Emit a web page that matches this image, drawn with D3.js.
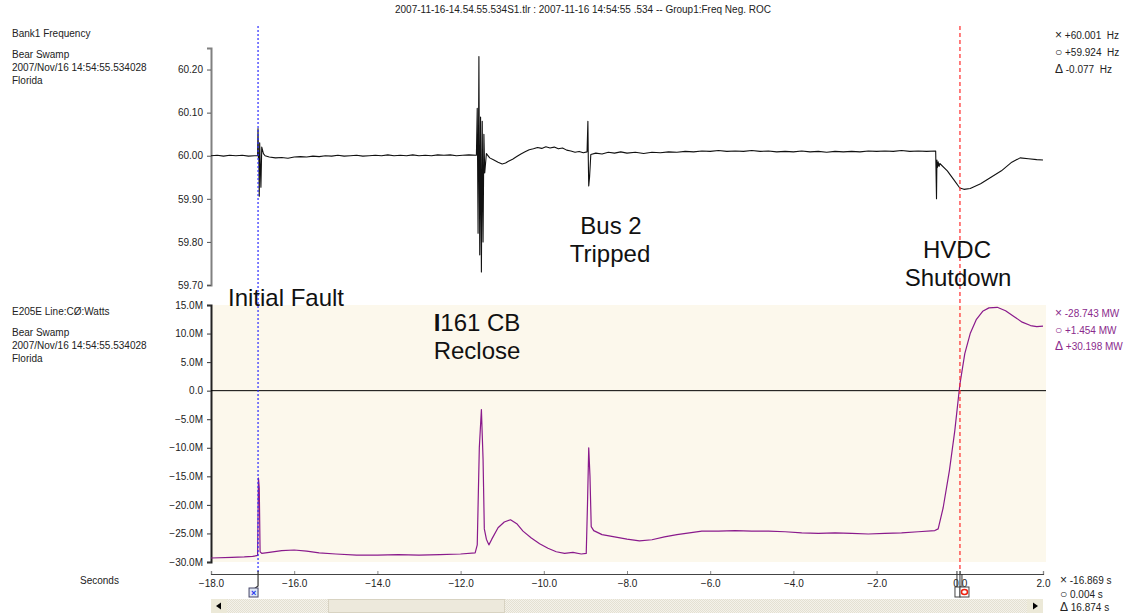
<!DOCTYPE html>
<html><head><meta charset="utf-8">
<script src="https://cdn.jsdelivr.net/npm/d3@7"></script>
<style>
body{margin:0;background:#fff}
svg{display:block}
text{font-family:"Liberation Sans",Arial,sans-serif}
</style>
</head><body>
<svg id="c" width="1129" height="615"></svg>
<script>
// Bank1 frequency (Hz) against time (s)
const freqTime = [-18.00,-17.85,-17.70,-17.55,-17.40,-17.25,-17.10,-16.95,-16.88,-16.87,-16.86,-16.85,-16.84,-16.83,-16.80,-16.78,-16.74,-16.70,
  -16.60,-16.45,-16.30,-16.15,-16.00,-15.85,-15.70,-15.55,-15.40,-15.25,-15.10,-14.95,-14.80,-14.65,-14.50,-14.35,-14.20,-14.05,-13.90,-13.75,-13.60,-13.45,-13.30,-13.15,-13.00,-12.85,-12.70,-12.55,-12.40,-12.25,-12.10,-11.95,-11.80,-11.62,
  -11.60,-11.58,-11.56,-11.54,-11.52,-11.50,-11.48,-11.46,-11.44,-11.42,
  -11.38,-11.30,-11.20,-11.10,-11.00,-10.92,-10.85,-10.75,-10.65,-10.55,-10.45,-10.35,-10.25,-10.15,-10.05,-9.95,-9.85,-9.75,-9.65,-9.55,-9.45,-9.35,-9.25,-9.15,-9.05,-8.96,
  -8.94,-8.93,-8.92,-8.90,
  -8.87,-8.75,-8.60,-8.45,-8.30,-8.15,-8.00,-7.80,-7.60,-7.40,-7.20,-7.00,-6.80,-6.60,-6.40,-6.20,-6.00,-5.80,-5.60,-5.40,-5.20,-5.00,-4.80,-4.60,-4.40,-4.20,-4.00,-3.80,-3.60,-3.40,-3.20,-3.00,-2.80,-2.60,-2.40,-2.20,-2.00,-1.80,-1.60,-1.40,-1.20,-1.00,-0.80,-0.58,
  -0.56,-0.55,-0.54,-0.52,-0.50,-0.48,-0.30,-0.15,0.00,0.10,0.25,0.50,0.75,1.00,1.25,1.45,1.65,1.85,2.00];
const freqHz = [60.000,60.001,59.999,60.001,60.000,60.001,59.999,60.000,60.000,60.063,59.995,60.000,59.906,60.030,59.927,60.020,60.005,60.000,
  59.997,59.995,59.996,59.994,59.997,59.998,59.997,59.999,59.998,60.000,59.999,60.001,59.999,60.000,60.001,59.999,60.000,60.001,60.000,60.002,60.000,60.001,60.000,60.002,60.000,60.001,60.000,60.002,60.001,60.002,60.000,60.001,60.002,60.001,
  60.110,59.820,60.230,59.770,60.090,59.730,60.080,59.800,60.050,59.960,
  60.005,59.995,59.990,59.985,59.981,59.983,59.987,59.992,59.998,60.004,60.009,60.014,60.016,60.019,60.017,60.021,60.018,60.020,60.016,60.018,60.013,60.011,60.008,60.010,60.007,60.009,
  60.080,59.990,59.930,59.950,
  60.003,60.006,60.004,60.008,60.006,60.009,60.006,60.008,60.005,60.008,60.007,60.009,60.008,60.010,60.009,60.011,60.010,60.012,60.010,60.011,60.010,60.012,60.010,60.011,60.009,60.010,60.009,60.011,60.009,60.010,60.008,60.010,60.009,60.010,60.009,60.011,60.010,60.011,60.010,60.012,60.010,60.011,60.010,60.011,
  59.900,59.990,59.972,59.986,59.975,59.982,59.965,59.945,59.925,59.922,59.924,59.935,59.950,59.965,59.985,59.995,59.993,59.991,59.990];

// E205E line power (MW) against time (s)
const powTime = [-18.00,-17.50,-17.20,-17.00,-16.90,-16.88,-16.86,-16.84,-16.82,-16.78,-16.60,-16.30,-16.00,-15.70,-15.40,-15.00,-14.50,-14.00,-13.50,-13.00,-12.50,-12.00,-11.65,
  -11.60,-11.55,-11.50,-11.46,-11.43,-11.38,-11.32,-11.25,-11.10,-10.95,-10.80,-10.65,-10.50,-10.30,-10.10,-9.90,-9.70,-9.50,-9.30,-9.10,-8.98,
  -8.95,-8.92,-8.89,-8.86,-8.80,-8.60,-8.30,-8.00,-7.70,-7.40,-7.10,-6.80,-6.50,-6.20,-5.80,-5.40,-5.00,-4.60,-4.20,-3.80,-3.40,-3.00,-2.60,-2.20,-1.80,-1.40,-1.00,-0.60,
  -0.52,-0.40,-0.25,-0.12,0.00,0.12,0.25,0.40,0.55,0.70,0.90,1.10,1.30,1.50,1.70,1.85,2.00];
const powMW = [-29.3,-29.2,-29.1,-29.0,-28.9,-28.8,-15.3,-17.0,-28.2,-28.5,-28.3,-28.0,-27.9,-28.1,-28.4,-28.6,-28.8,-28.8,-28.7,-28.8,-28.7,-28.6,-28.4,
  -27.0,-10.0,-3.3,-12.0,-24.2,-26.0,-27.0,-26.0,-24.0,-23.0,-22.6,-23.3,-24.6,-25.8,-26.8,-27.6,-28.2,-28.5,-28.3,-28.6,-28.5,
  -20.0,-10.0,-15.0,-23.8,-24.5,-25.2,-25.6,-26.0,-26.3,-26.1,-25.6,-25.2,-24.9,-24.6,-24.6,-24.5,-24.6,-24.6,-24.7,-24.9,-25.0,-24.9,-25.0,-25.1,-25.0,-24.9,-24.7,-24.5,
  -24.2,-20.5,-14.0,-7.0,1.0,6.5,10.0,12.5,13.9,14.5,14.6,14.0,13.0,12.0,11.4,11.2,11.3];

const timeTicks = [-18,-16,-14,-12,-10,-8,-6,-4,-2,0,2];
const freqTicks = [59.70,59.80,59.90,60.00,60.10,60.20];
const powTicks = [-30,-25,-20,-15,-10,-5,0,5,10,15];

// Cursor positions (s) and their readouts: [marker, text]
const cursorX = -16.869, cursorO = 0.004;
const freqReadout = [["\u00D7", " +60.001  Hz"], ["\u25CB", " +59.924  Hz"], ["\u0394", " -0.077  Hz"]];
const powReadout = [["\u00D7", " -28.743 MW"], ["\u25CB", " +1.454 MW"], ["\u0394", " +30.198 MW"]];
const timeReadout = [["\u00D7", " -16.869 s"], ["\u25CB", " 0.004 s"], ["\u0394", " 16.874 s"]];

const svg = d3.select("#c");
const FONT = "\"Liberation Sans\",Arial,sans-serif";

const x = d3.scaleLinear().domain([-18, 2]).range([211, 1043]);
const yF = d3.scaleLinear().domain([59.70, 60.25]).range([285, 48]);
const yP = d3.scaleLinear().domain([-30, 15]).range([562, 305]);

// title
svg.append("text").attr("x", 583).attr("y", 13).attr("text-anchor", "middle")
  .attr("font-size", 10).attr("fill", "#222")
  .text("2007-11-16-14.54.55.534S1.tlr : 2007-11-16 14:54:55 .534 -- Group1:Freq Neg. ROC");

// bottom panel background
svg.append("rect").attr("x", 212).attr("y", yP(15)).attr("width", 834).attr("height", yP(-30) - yP(15))
  .attr("fill", "#fcf8ec");

// channel labels
function infoBlock(y0, title) {
  const g = svg.append("g").attr("font-size", 10).attr("fill", "#222");
  g.append("text").attr("x", 12).attr("y", y0).text(title);
  g.append("text").attr("x", 12).attr("y", y0 + 21).text("Bear Swamp");
  g.append("text").attr("x", 12).attr("y", y0 + 34).text("2007/Nov/16 14:54:55.534028");
  g.append("text").attr("x", 12).attr("y", y0 + 47).text("Florida");
}
infoBlock(37, "Bank1 Frequency");
infoBlock(315, "E205E Line:C\u00D8:Watts");

// y axes
const axF = svg.append("g").attr("transform", "translate(211,0)")
  .call(d3.axisLeft(yF).tickValues(freqTicks).tickFormat(d3.format(".2f")).tickSizeOuter(0).tickSize(4).tickPadding(4));
axF.select(".domain").attr("stroke", "#808080").attr("stroke-width", 2);
axF.selectAll(".tick line").attr("stroke", "#555");
axF.selectAll("text").attr("font-size", 10).attr("font-family", FONT).attr("fill", "#222");

const fmtP = d => d === 0 ? "0.0" : d3.format(".1f")(d) + "M";
const axP = svg.append("g").attr("transform", "translate(211,0)")
  .call(d3.axisLeft(yP).tickValues(powTicks).tickFormat(fmtP).tickSizeOuter(0).tickSize(4).tickPadding(4));
axP.select(".domain").attr("stroke", "#222").attr("stroke-width", 2);
axP.selectAll(".tick line").attr("stroke", "#333");
axP.selectAll("text").attr("font-size", 10).attr("font-family", FONT).attr("fill", "#222");

// zero line
svg.append("line").attr("x1", 211).attr("x2", 1046).attr("y1", yP(0)).attr("y2", yP(0))
  .attr("stroke", "#000").attr("stroke-width", 1);

// traces
const lineF = d3.line().x((d, i) => x(freqTime[i])).y(d => yF(d));
svg.append("path").datum(freqHz).attr("d", lineF).attr("fill", "none")
  .attr("stroke", "#111").attr("stroke-width", 1.1).attr("stroke-linejoin", "round");

const lineP = d3.line().x((d, i) => x(powTime[i])).y(d => yP(d));
svg.append("path").datum(powMW).attr("d", lineP).attr("fill", "none")
  .attr("stroke", "#8a1a8c").attr("stroke-width", 1.2).attr("stroke-linejoin", "round");

// cursors
svg.append("line").attr("x1", x(cursorX)).attr("x2", x(cursorX)).attr("y1", 26).attr("y2", 572)
  .attr("stroke", "#2b2bff").attr("stroke-width", 1.2).attr("stroke-dasharray", "2,2");
svg.append("line").attr("x1", x(cursorO)).attr("x2", x(cursorO)).attr("y1", 26).attr("y2", 572)
  .attr("stroke", "#ff2a2a").attr("stroke-width", 1.2).attr("stroke-dasharray", "4,3");

// annotations
const ann = svg.append("g").attr("font-size", 24).attr("fill", "#111").attr("text-anchor", "middle");
ann.append("text").attr("x", 286).attr("y", 306).text("Initial Fault");
const t1 = ann.append("text").attr("x", 477).attr("y", 331);
t1.append("tspan").attr("font-weight", "bold").text("I");
t1.append("tspan").text("161 CB");
ann.append("text").attr("x", 477).attr("y", 359).text("Reclose");
ann.append("text").attr("x", 611).attr("y", 234).text("Bus 2");
ann.append("text").attr("x", 610).attr("y", 262).text("Tripped");
ann.append("text").attr("x", 957).attr("y", 258).text("HVDC");
ann.append("text").attr("x", 958).attr("y", 286).text("Shutdown");

// readouts
function readout(rows, x0, y0, dy, color) {
  const g = svg.append("g").attr("font-size", 10).attr("fill", color);
  rows.forEach((r, i) => {
    const t = g.append("text").attr("x", x0).attr("y", y0 + i * dy).attr("xml:space", "preserve");
    t.append("tspan").attr("font-size", 12).text(r[0]);
    t.append("tspan").text(r[1]);
  });
}
readout(freqReadout, 1055, 39, 17, "#222");
readout(powReadout, 1055, 317, 16.5, "#8a2a8c");
readout(timeReadout, 1060, 584, 13.5, "#222");

// x axis
svg.append("text").attr("x", 80).attr("y", 584).attr("font-size", 10).attr("fill", "#222").text("Seconds");
const axT = svg.append("g").attr("transform", "translate(0,574)")
  .call(d3.axisBottom(x).tickValues(timeTicks).tickFormat(d3.format(".1f")).tickSizeOuter(0).tickSize(-3).tickPadding(6));
axT.select(".domain").attr("stroke", "#444").attr("stroke-width", 1.2);
axT.selectAll(".tick line").attr("stroke", "#888");
axT.selectAll("text").attr("font-size", 10).attr("font-family", FONT).attr("fill", "#222");

// cursor handles on the time axis
const hx = x(cursorX);
svg.append("path").attr("d", `M${hx},571 V586 L${hx - 4},589`).attr("fill", "none").attr("stroke", "#333").attr("stroke-width", 1.2);
svg.append("rect").attr("x", hx - 9).attr("y", 588).attr("width", 9).attr("height", 9).attr("fill", "#dde6f5").attr("stroke", "#446");
svg.append("text").attr("x", hx - 4.5).attr("y", 596).attr("text-anchor", "middle").attr("font-size", 9).attr("fill", "#2233ee").attr("font-weight", "bold").text("\u00D7");
const ho = x(cursorO);
svg.append("path").attr("d", `M${ho - 3},571 V587 M${ho},571 V587 M${ho + 2},574 V587`).attr("fill", "none").attr("stroke", "#333").attr("stroke-width", 1);
svg.append("rect").attr("x", ho - 5).attr("y", 587).attr("width", 5).attr("height", 10).attr("fill", "#fff").attr("stroke", "#444");
svg.append("rect").attr("x", ho).attr("y", 587).attr("width", 9).attr("height", 10).attr("fill", "#fff").attr("stroke", "#444");
svg.append("ellipse").attr("cx", ho + 4.5).attr("cy", 592).attr("rx", 3).attr("ry", 2.5).attr("fill", "none").attr("stroke", "#e21").attr("stroke-width", 1.5);

// scrollbar
const defs = svg.append("defs");
const pat = defs.append("pattern").attr("id", "hatch").attr("width", 2).attr("height", 2).attr("patternUnits", "userSpaceOnUse");
pat.append("rect").attr("width", 2).attr("height", 2).attr("fill", "#f4f2ea");
pat.append("rect").attr("width", 1).attr("height", 1).attr("fill", "#e4e0d2");
pat.append("rect").attr("x", 1).attr("y", 1).attr("width", 1).attr("height", 1).attr("fill", "#e4e0d2");
svg.append("rect").attr("x", 211).attr("y", 599).attr("width", 832).attr("height", 14).attr("fill", "url(#hatch)");
svg.append("rect").attr("x", 211).attr("y", 599).attr("width", 16).attr("height", 14).attr("fill", "#ece9d8");
svg.append("path").attr("d", "M216,606 L221,602.5 V609.5 Z").attr("fill", "#000");
svg.append("rect").attr("x", 328.5).attr("y", 599.5).attr("width", 176).attr("height", 13).attr("fill", "#ede9dc").attr("stroke", "#d8d3c2");
svg.append("rect").attr("x", 1027).attr("y", 599).attr("width", 16).attr("height", 14).attr("fill", "#ece9d8");
svg.append("path").attr("d", "M1038,606 L1033,602.5 V609.5 Z").attr("fill", "#000");
</script>
</body></html>
